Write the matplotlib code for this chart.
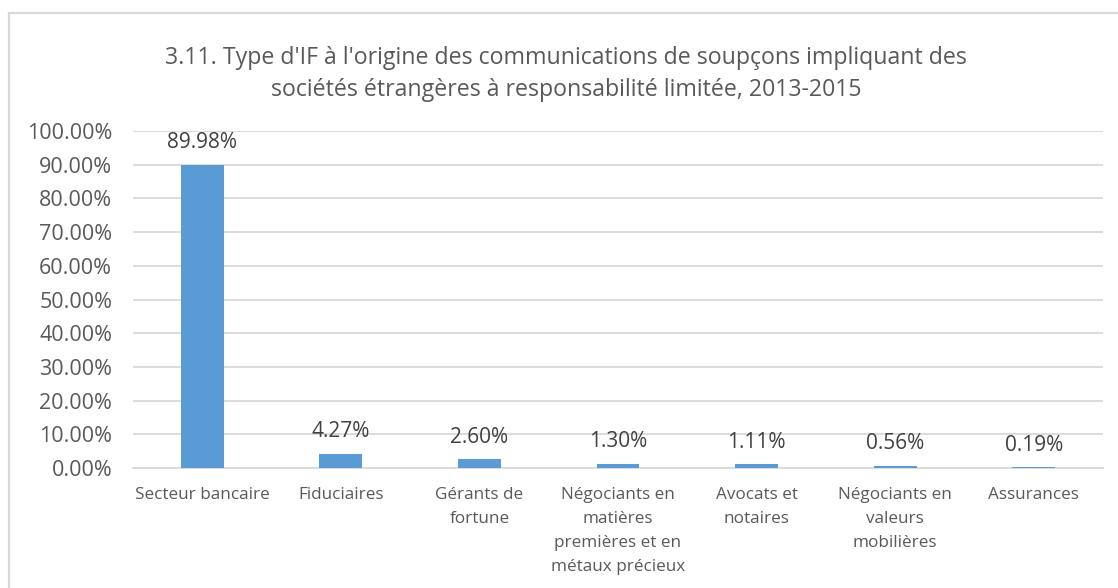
import matplotlib.pyplot as plt
from matplotlib.lines import Line2D
from matplotlib.ticker import FuncFormatter

categories = [
    "Secteur bancaire",
    "Fiduciaires",
    "Gérants de\nfortune",
    "Négociants en\nmatières\npremières et en\nmétaux précieux",
    "Avocats et\nnotaires",
    "Négociants en\nvaleurs\nmobilières",
    "Assurances",
]
shares = [89.98, 4.27, 2.60, 1.30, 1.11, 0.56, 0.19]
title = ("3.11. Type d'IF à l'origine des communications de soupçons impliquant des\n"
         "sociétés étrangères à responsabilité limitée, 2013-2015")

plt.rcParams["font.family"] = ["Open Sans", "DejaVu Sans"]

fig = plt.figure(figsize=(11.18, 5.88), dpi=100)
W, H = 1118, 588
# plot area in pixels: left 133, right 1103, top (100%) 131, bottom (0%) 468
ax = fig.add_axes([133 / W, 1 - 468 / H, (1103 - 133) / W, (468 - 131) / H])

x = range(len(categories))
ax.bar(x, shares, width=0.31, color="#5B9BD5", zorder=3)
for xi, v in zip(x, shares):
    ax.annotate(f"{v:.2f}%", (xi, v), xytext=(0, 12), textcoords="offset points",
                ha="center", va="baseline", fontsize=15, color="#404040")

ax.set_xlim(-0.5, len(categories) - 0.5)
ax.set_ylim(0, 100)
ax.set_yticks(range(0, 101, 10))
ax.yaxis.set_major_formatter(FuncFormatter(lambda v, p: f"{v:.2f}%"))
ax.grid(axis="y", color="#D9D9D9", linewidth=1.3, zorder=0)
ax.set_xticks(list(x))
ax.set_xticklabels(categories, fontsize=12.3, color="#595959", linespacing=1.65, va="top")
ax.tick_params(axis="y", labelsize=15.5, colors="#595959", length=0, pad=15)
ax.tick_params(axis="x", length=0, pad=14)
for s in ["top", "right", "left"]:
    ax.spines[s].set_visible(False)
ax.spines["bottom"].set_color("#D9D9D9")
ax.spines["bottom"].set_linewidth(1.3)

fig.text(566 / W, 1 - 74 / H, title, ha="center", va="center", fontsize=16.7,
         color="#595959", linespacing=1.4)

# chart frame: top and left edges only are visible in the crop
fig.lines.append(Line2D([9 / W, 1.0], [1 - 13 / H, 1 - 13 / H], transform=fig.transFigure,
                        color="#D9D9D9", linewidth=1.6))
fig.lines.append(Line2D([9 / W, 9 / W], [0, 1 - 13 / H], transform=fig.transFigure,
                        color="#D9D9D9", linewidth=1.6))

fig.savefig("out.png", dpi=100)
